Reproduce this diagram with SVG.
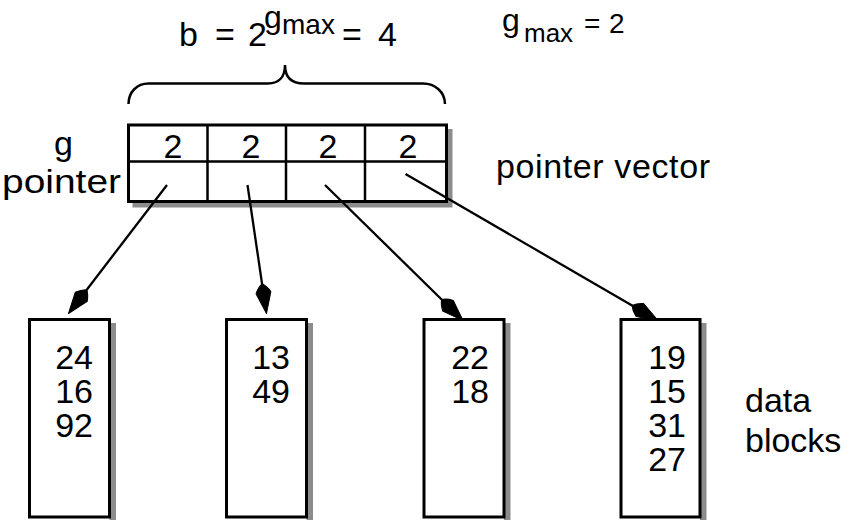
<svg xmlns="http://www.w3.org/2000/svg" width="858" height="520" viewBox="0 0 858 520">
<style>
  text { font-family: "Liberation Sans", Arial, sans-serif; font-size: 34px; fill: #000; }
  .sm { font-size: 28px; }
  .box { fill: #ffffff; stroke: #000000; stroke-width: 3; }
  .shd { fill: #8c8c8c; stroke: none; }
  .grid { stroke: #000000; stroke-width: 2.5; fill: none; }
  .conn { stroke: #000000; stroke-width: 2.3; fill: none; }
  .head { fill: #000000; stroke: #000000; stroke-width: 1; stroke-linejoin: round; }
  .brace { stroke: #000000; stroke-width: 2.5; fill: none; }
</style>
<defs>
  <path id="arrowhead" class="head" d="M0,0 L-21,-7.5 Q-27,-4.5 -30,0 Q-27,4.5 -21,7.5 Z"/>
</defs>

<g id="title">
  <text x="179" y="46">b</text>
  <text x="215" y="46">=</text>
  <text x="248" y="46">2</text>
  <text x="264" y="28" style="font-size:32px">g</text>
  <text x="282" y="33.5" class="sm">max</text>
  <text x="342" y="46">=</text>
  <text x="378" y="46">4</text>
</g>

<g id="gmax-label">
  <text x="502" y="31" style="font-size:32px">g</text>
  <text x="524" y="42" style="font-size:26px">max</text>
  <text x="584" y="33" class="sm">=</text>
  <text x="609" y="33" class="sm">2</text>
</g>

<g id="brace">
  <path class="brace" d="M128.5,104 C128.5,92 137,83.5 148.5,83.5 L268,83.5 C279,83.5 285,77 285,65 C285,77 291,83.5 304,83.5 L423,83.5 C435,83.5 445,92 445,104"/>
</g>

<g id="pointer-vector">
  <path class="shd" d="M446.5,129 H452.5 V207.5 H132.5 V201.5 H446.5 Z"/>
  <rect class="box" x="128.5" y="125" width="318" height="76.5"/>
  <path class="grid" d="M128.5,161.5 H446.5 M207.5,125 V201.5 M286,125 V201.5 M365,125 V201.5"/>
  <text x="173" y="158" text-anchor="middle">2</text>
  <text x="251" y="158" text-anchor="middle">2</text>
  <text x="328" y="158" text-anchor="middle">2</text>
  <text x="408" y="158" text-anchor="middle">2</text>
</g>

<g id="labels">
  <text x="54" y="155">g</text>
  <text x="2" y="193" textLength="119" lengthAdjust="spacingAndGlyphs">pointer</text>
  <text x="496" y="178" textLength="214" lengthAdjust="spacing">pointer vector</text>
  <text x="745" y="412">data</text>
  <text x="745" y="452">blocks</text>
</g>

<g id="block1">
  <path class="shd" d="M109.5,323 H116 V520 H109.5 Z"/>
  <rect class="box" x="29.5" y="319.5" width="80" height="197.5"/>
  <text x="93" y="369" text-anchor="end">24</text>
  <text x="93" y="403" text-anchor="end">16</text>
  <text x="93" y="437" text-anchor="end">92</text>
</g>

<g id="block2">
  <path class="shd" d="M306.5,323 H313 V520 H306.5 Z"/>
  <rect class="box" x="226.5" y="319.5" width="80" height="197.5"/>
  <text x="290" y="369" text-anchor="end">13</text>
  <text x="290" y="403" text-anchor="end">49</text>
</g>

<g id="block3">
  <path class="shd" d="M504,323 H510.5 V520 H504 Z"/>
  <rect class="box" x="424" y="319.5" width="80" height="197.5"/>
  <text x="489" y="369" text-anchor="end">22</text>
  <text x="489" y="403" text-anchor="end">18</text>
</g>

<g id="block4">
  <path class="shd" d="M700,323 H706.5 V520 H700 Z"/>
  <rect class="box" x="621" y="319.5" width="79" height="197.5"/>
  <text x="686" y="369" text-anchor="end">19</text>
  <text x="686" y="403" text-anchor="end">15</text>
  <text x="686" y="437" text-anchor="end">31</text>
  <text x="686" y="471" text-anchor="end">27</text>
</g>

<g id="connectors">
  <path class="conn" d="M167,185 L83.7,293.7"/>
  <use href="#arrowhead" transform="translate(68.5,313.5) rotate(127.47)"/>
  <path class="conn" d="M247.5,185 L262.8,288.8"/>
  <use href="#arrowhead" transform="translate(266.5,313.5) rotate(81.59)"/>
  <path class="conn" d="M325,185 L445.2,303"/>
  <use href="#arrowhead" transform="translate(463,320.5) rotate(44.48)"/>
  <path class="conn" d="M405.5,174 L636.4,308"/>
  <use href="#arrowhead" transform="translate(658,320.5) rotate(30.12)"/>
</g>
</svg>
